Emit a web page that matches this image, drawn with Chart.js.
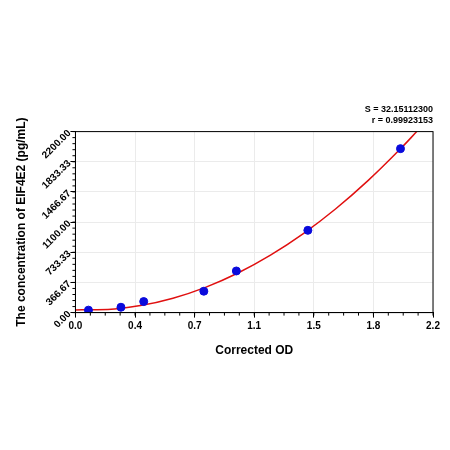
<!DOCTYPE html>
<html><head><script src="https://cdn.jsdelivr.net/npm/chart.js@4"></script>
<style>body{margin:0;background:#fff}#w{width:450px;height:450px}</style></head>
<body><div id="w"><canvas id="c"></canvas></div>
<script>
const pointX=[0.08,0.28,0.42,0.79,0.99,1.43,2.0];
const pointY=[30,65,134,260,506,1000,1993];
const curveX=[0,0.2,0.4,0.6,0.8,1.0,1.2,1.4,1.6,1.8,2.0,2.1];
const curveY=[33,37,85,175,307,481,698,957,1259,1604,1991,2200];
const yTicks=[0,366.67,733.33,1100,1466.67,1833.33,2200];
const xTicks=[0,0.3667,0.7333,1.1,1.4667,1.8333,2.2];
const statLines=['S = 32.15112300','r = 0.99923153'];
const frame={id:'frame',afterDraw(c){const a=c.chartArea,x=c.ctx;x.save();x.strokeStyle='#000';x.lineWidth=1;x.strokeRect(a.left,a.top,a.right-a.left,a.bottom-a.top);
x.beginPath();const ys=c.scales.y,xs=c.scales.x;
for(let i=0;i<=30;i++){const py=ys.getPixelForValue(i*2200/30);x.moveTo(a.left-3,py);x.lineTo(a.left,py);}
for(let i=0;i<=24;i++){const px=xs.getPixelForValue(i*2.2/24);x.moveTo(px,a.bottom);x.lineTo(px,a.bottom+3);}
x.stroke();x.restore();}};
new Chart(document.getElementById('c'),{type:'scatter',
data:{datasets:[
{data:pointX.map((v,i)=>({x:v,y:pointY[i]})),backgroundColor:'#0a0adc',borderColor:'#0a0adc',pointRadius:4,order:1},
{type:'line',data:curveX.map((v,i)=>({x:v,y:curveY[i]})),borderColor:'#e01010',borderWidth:1.5,pointRadius:0,cubicInterpolationMode:'monotone',fill:false,order:2}
]},
options:{responsive:true,maintainAspectRatio:false,animation:false,
layout:{padding:{left:10,right:17,top:0,bottom:88}},
plugins:{legend:{display:false},tooltip:{enabled:false},
title:{display:true,text:statLines,align:'end',color:'#000',font:{family:'Liberation Sans',size:9,weight:'bold'},padding:{top:104,bottom:6},lineHeight:1.3}},
scales:{
x:{type:'linear',min:0,max:2.2,afterBuildTicks:s=>{s.ticks=xTicks.map(v=>({value:v}));},
ticks:{callback:v=>v.toFixed(1),color:'#000',font:{family:'Liberation Sans',size:10,weight:'bold'},maxRotation:0},
grid:{color:'#ebebeb',drawTicks:true,tickLength:5,tickColor:'#000'},border:{color:'#000'},
title:{display:true,text:'Corrected OD',color:'#000',font:{family:'Liberation Sans',size:12,weight:'bold'},padding:{top:8}}},
y:{min:0,max:2200,afterBuildTicks:s=>{s.ticks=yTicks.map(v=>({value:v}));},
ticks:{callback:v=>v.toFixed(2),color:'#000',font:{family:'Liberation Sans',size:10,weight:'bold'},minRotation:45,maxRotation:45,padding:1},
grid:{color:'#ebebeb',tickLength:5,tickColor:'#000'},border:{color:'#000'},
title:{display:true,text:'The concentration of EIF4E2 (pg/mL)',color:'#000',font:{family:'Liberation Sans',size:12,weight:'bold'},padding:{bottom:6}}}
}},plugins:[frame]});
</script></body></html>
